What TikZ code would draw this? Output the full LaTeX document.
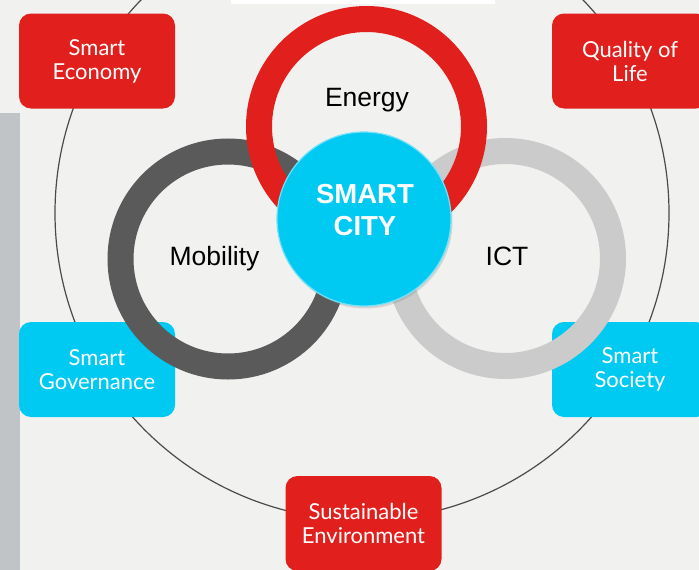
\documentclass[tikz,border=0pt]{standalone}
\usepackage{fontspec}
\setmainfont{Liberation Sans}
\newfontfamily\gill{Lato}
\usetikzlibrary{shadows}
\definecolor{bg}{HTML}{F1F1F0}
\definecolor{cred}{HTML}{E1201D}
\definecolor{ccyan}{HTML}{00C9F2}
\definecolor{dgray}{HTML}{5A5A5A}
\definecolor{lgray}{HTML}{CBCBCB}
\definecolor{stripgray}{HTML}{C1C4C7}
\definecolor{orbit}{HTML}{4A4A4A}
\begin{document}
\begin{tikzpicture}[x=1pt,y=-1pt,
  tile/.style={rounded corners=12pt, minimum width=156pt, minimum height=95pt,
    inner sep=0pt, align=center, text=white, font=\gill\fontsize{22}{24}\selectfont},
  redtile/.style={tile, fill=cred},
  cyantile/.style={tile, fill=ccyan},
  ring/.style={circle, line width=26pt, minimum size=215pt, inner sep=0pt},
  lbl/.style={font=\fontsize{26.5}{30}\selectfont, text=black, anchor=base, inner sep=0pt}
]
\useasboundingbox (0,0) rectangle (699,570);
\clip (0,0) rectangle (699,570);
\fill[bg] (0,0) rectangle (699,570);
\fill[white] (231,0) rectangle (495,4);
\fill[stripgray] (0,113) rectangle (20,570);
\draw[orbit, line width=1.2pt] (362,213) circle[radius=307pt];

\node[redtile] (economy) at (97,61) {Smart\\Economy};
\node[redtile] (quality) at (630,61) {Quality of\\Life};
\node[cyantile] (governance) at (97,369.5) {Smart\\Governance};
\node[cyantile] (society) at (630,369.5) {Smart\\Society};
\node[redtile] (sustain) at (363.5,523.5) {Sustainable\\Environment};

\node[ring, draw=dgray] (mobility) at (228,259) {};
\node[ring, draw=lgray] (ict) at (505.5,258.5) {};
\node[ring, draw=cred] (energy) at (366.5,126.5) {};

\node[circle, fill=ccyan, draw=ccyan!55!white, line width=1.2pt, minimum size=174pt,
  drop shadow={shadow xshift=1.5pt, shadow yshift=-2.5pt, opacity=0.25}] (city) at (364,219) {};

\node[lbl] (energytext) at (367,106) {Energy};
\node[lbl] (mobilitytext) at (214.5,265) {Mobility};
\node[lbl] (icttext) at (507,265) {ICT};
\node[font=\bfseries\fontsize{27.5}{32}\selectfont, text=white, align=center, anchor=base, inner sep=0pt]
  (citytext) at (365,235) {SMART\\CITY};
\end{tikzpicture}
\end{document}
